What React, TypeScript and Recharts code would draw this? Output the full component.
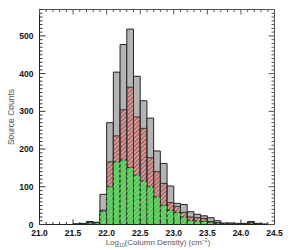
import React from 'react';
import { BarChart, Bar, XAxis, YAxis } from 'recharts';

// left edge of each 0.1 dex bin
const binEdges = [21.5, 21.6, 21.7, 21.8, 21.9, 22.0, 22.1, 22.2, 22.3, 22.4, 22.5, 22.6, 22.7, 22.8, 22.9, 23.0, 23.1, 23.2, 23.3, 23.4, 23.5, 23.6, 23.7, 23.8, 23.9, 24.0, 24.1, 24.2, 24.3];
const allCounts = [2, 3, 8, 6, 80, 270, 404, 477, 518, 393, 328, 282, 195, 162, 102, 56, 53, 34, 27, 23, 18, 10, 4, 4, 3, 3, 8, 3, 1];
const redCounts = [1, 2, 6, 5, 38, 166, 235, 304, 364, 285, 255, 177, 140, 109, 58, 48, 32, 20, 18, 16, 8, 5, 2, 2, 1, 1, 6, 2, 1];
const greenCounts = [0, 1, 4, 4, 35, 100, 166, 171, 151, 131, 115, 100, 73, 51, 38, 32, 20, 11, 9, 8, 6, 3, 2, 1, 1, 1, 2, 1, 0];

const xMajor = [21.0, 21.5, 22.0, 22.5, 23.0, 23.5, 24.0, 24.5];
const yMajor = [0, 100, 200, 300, 400, 500];

const data = binEdges.map((e, i) => ({ x: +(e + 0.05).toFixed(2), all: allCounts[i], red: redCounts[i], green: greenCounts[i] }));

const xTicks = Array.from({ length: 36 }, (_, k) => +(21 + k * 0.1).toFixed(1));
const yTicks = Array.from({ length: 58 }, (_, k) => k * 10);

const font = "'Liberation Sans Narrow', 'Arial Narrow', 'Liberation Sans', Arial, sans-serif";
const isXMajor = (v: number) => xMajor.some((m) => Math.abs(m - v) < 1e-6);
const isYMajor = (v: number) => yMajor.includes(v);

const BottomTick = ({ x, y, payload }: any) => {
    const major = isXMajor(payload.value);
    return (
        <g>
            <line x1={x} x2={x} y1={y} y2={y - (major ? 5 : 2.5)} stroke="#333" />
            {major && (
                <text x={x} y={y + 11} textAnchor="middle" fontSize={8.5} fontWeight="bold" fontFamily={font} fill="#111">
                    {payload.value.toFixed(1)}
                </text>
            )}
        </g>
    );
};

const TopTick = ({ x, y, payload }: any) => {
    const major = isXMajor(payload.value);
    return <line x1={x} x2={x} y1={y} y2={y + (major ? 5 : 2.5)} stroke="#555" />;
};

const LeftTick = ({ x, y, payload }: any) => {
    const major = isYMajor(payload.value);
    return (
        <g>
            <line x1={x} x2={x + (major ? 6 : 3)} y1={y} y2={y} stroke="#333" />
            {major && (
                <text x={x - 6} y={y + 3} textAnchor="end" fontSize={8.5} fontWeight="bold" fontFamily={font} fill="#111">
                    {payload.value}
                </text>
            )}
        </g>
    );
};

const RightTick = ({ x, y, payload }: any) => {
    const major = isYMajor(payload.value);
    return <line x1={x} x2={x - (major ? 6 : 3)} y1={y} y2={y} stroke="#555" />;
};

export default function App() {
    return (
        <div style={{ position: 'absolute', left: 0, top: 0, width: 300, height: 250, background: '#fff' }}>
            <BarChart width={300} height={250} data={data} margin={{ top: 0, right: 0, bottom: 0, left: 0 }}>
                <defs>
                    <pattern id="redHatch" patternUnits="userSpaceOnUse" width="3" height="3" patternTransform="rotate(45)">
                        <line x1="0.6" y1="0" x2="0.6" y2="3" stroke="#d23c3c" strokeWidth="1.2" />
                    </pattern>
                    <pattern id="greenHatch" patternUnits="userSpaceOnUse" width="3" height="3" patternTransform="rotate(45)">
                        <rect width="3" height="3" fill="#b4b4b4" />
                        <line x1="1" y1="0" x2="1" y2="3" stroke="#3ad83a" strokeWidth="2" />
                    </pattern>
                </defs>
                <XAxis xAxisId="bottom" dataKey="x" type="number" domain={[21, 24.5]} allowDataOverflow ticks={xTicks} interval={0}
                    height={25.5} tickSize={0} tickMargin={0} tickLine={false} axisLine={{ stroke: '#222' }} tick={<BottomTick />} />
                <XAxis xAxisId="top" dataKey="x" type="number" orientation="top" domain={[21, 24.5]} allowDataOverflow ticks={xTicks} interval={0}
                    height={9.5} tickSize={0} tickMargin={0} tickLine={false} axisLine={{ stroke: '#555' }} tick={<TopTick />} />
                <XAxis xAxisId="hidden" dataKey="x" type="number" domain={[21, 24.5]} allowDataOverflow hide />
                <YAxis yAxisId="left" domain={[0, 570]} allowDataOverflow ticks={yTicks} interval={0} width={39.5}
                    tickSize={0} tickMargin={0} tickLine={false} axisLine={{ stroke: '#222' }} tick={<LeftTick />} />
                <YAxis yAxisId="right" orientation="right" domain={[0, 570]} allowDataOverflow ticks={yTicks} interval={0} width={25.5}
                    tickSize={0} tickMargin={0} tickLine={false} axisLine={{ stroke: '#555' }} tick={<RightTick />} />
                <Bar xAxisId="bottom" yAxisId="left" dataKey="all" barSize={6.7} fill="#b4b4b4" stroke="#222" strokeWidth={1} isAnimationActive={false} />
                <Bar xAxisId="top" yAxisId="left" dataKey="red" barSize={6.7} fill="url(#redHatch)" stroke="#333" strokeWidth={1} isAnimationActive={false} />
                <Bar xAxisId="hidden" yAxisId="right" dataKey="green" barSize={6.7} fill="url(#greenHatch)" stroke="#222" strokeWidth={1}
                    strokeDasharray="3 2" isAnimationActive={false} />
            </BarChart>
            <svg width={300} height={250} style={{ position: 'absolute', left: 0, top: 0, pointerEvents: 'none' }}>
                <text x={158} y={245} textAnchor="middle" fontSize={8} fontFamily={font} fill="#555">
                    Log<tspan fontSize={5} dy={1.5}>10</tspan>
                    <tspan dy={-1.5}>(Column Density) (cm</tspan>
                    <tspan fontSize={5} dy={-3.5}>−2</tspan>
                    <tspan dy={3.5}>)</tspan>
                </text>
                <text x={0} y={0} transform="translate(13.5,117) rotate(-90)" textAnchor="middle" fontSize={8.5} fontFamily={font} fill="#555">
                    Source Counts
                </text>
            </svg>
        </div>
    );
}
